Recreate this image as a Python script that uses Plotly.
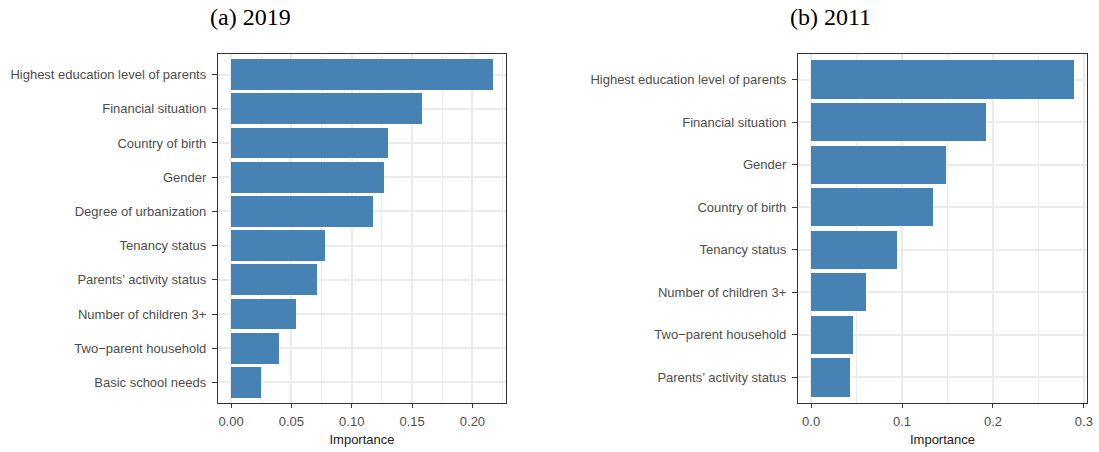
import plotly.graph_objects as go

# Panel (a) 2019, top to bottom
cats_2019 = ["Highest education level of parents", "Financial situation", "Country of birth",
             "Gender", "Degree of urbanization", "Tenancy status", "Parents\u2019 activity status",
             "Number of children 3+", "Two\u2212parent household", "Basic school needs"]
vals_2019 = [0.217, 0.158, 0.130, 0.127, 0.118, 0.078, 0.071, 0.054, 0.040, 0.025]

# Panel (b) 2011, top to bottom
cats_2011 = ["Highest education level of parents", "Financial situation", "Gender",
             "Country of birth", "Tenancy status", "Number of children 3+",
             "Two\u2212parent household", "Parents\u2019 activity status"]
vals_2011 = [0.289, 0.192, 0.148, 0.134, 0.094, 0.060, 0.046, 0.043]

W, H = 1099, 452
BAR = "#4682B4"
GRID = "#EBEBEB"
FRAME = "#333333"
TXT = "#4D4D4D"
FONT = "Liberation Sans, Arial, sans-serif"

fig = go.Figure()
fig.add_trace(go.Bar(x=vals_2019[::-1], y=cats_2019[::-1], orientation="h", width=0.9,
                     marker=dict(color=BAR, line=dict(width=0)), xaxis="x", yaxis="y",
                     showlegend=False))
fig.add_trace(go.Bar(x=vals_2011[::-1], y=cats_2011[::-1], orientation="h", width=0.9,
                     marker=dict(color=BAR, line=dict(width=0)), xaxis="x2", yaxis="y2",
                     showlegend=False))

def xax(domain, rng, dtick, fmt):
    return dict(domain=domain, range=rng, dtick=dtick, tick0=0, tickformat=fmt,
                showgrid=True, gridcolor=GRID, gridwidth=1.6,
                minor=dict(dtick=dtick / 2, tick0=0, showgrid=True, gridcolor=GRID, gridwidth=0.8, ticks=""),
                showline=True, mirror=True, linecolor=FRAME, linewidth=1.3,
                ticks="outside", ticklen=4, tickwidth=1.3, tickcolor=FRAME, ticklabelstandoff=2,
                tickfont=dict(family=FONT, size=13, color=TXT), zeroline=False,
                title=dict(text="Importance", font=dict(family=FONT, size=13, color="#222222"), standoff=7))

def yax(domain, cats, anchor):
    n = len(cats)
    return dict(domain=domain, type="category", categoryorder="array", categoryarray=cats[::-1],
                range=[-0.6, n - 0.4], showgrid=True, gridcolor=GRID, gridwidth=1.6,
                showline=True, mirror=True, linecolor=FRAME, linewidth=1.3,
                ticks="outside", ticklen=5, tickwidth=1.3, tickcolor=FRAME, ticklabelstandoff=3,
                tickfont=dict(family=FONT, size=13, color=TXT), zeroline=False, anchor=anchor)

ydom = [(H - 403) / H, (H - 54) / H]
fig.update_layout(
    width=W, height=H, margin=dict(l=0, r=0, t=0, b=0, autoexpand=False),
    paper_bgcolor="white", plot_bgcolor="white", bargap=0,
    xaxis=dict(**xax([218 / W, 506 / W], [-0.0108, 0.2278], 0.05, ".2f"), anchor="y"),
    yaxis=yax(ydom, cats_2019, "x"),
    xaxis2=dict(**xax([798 / W, 1087 / W], [-0.01445, 0.30345], 0.1, ".1f"), anchor="y2"),
    yaxis2=yax(ydom, cats_2011, "x2"),
    annotations=[
        dict(text="(a) 2019", x=250 / W, y=(H - 17) / H, xref="paper", yref="paper",
             showarrow=False, xanchor="center", yanchor="middle",
             font=dict(family="Liberation Serif, DejaVu Serif, serif", size=24, color="black")),
        dict(text="(b) 2011", x=830 / W, y=(H - 17) / H, xref="paper", yref="paper",
             showarrow=False, xanchor="center", yanchor="middle",
             font=dict(family="Liberation Serif, DejaVu Serif, serif", size=24, color="black")),
    ],
)
fig.write_html("out.html")
